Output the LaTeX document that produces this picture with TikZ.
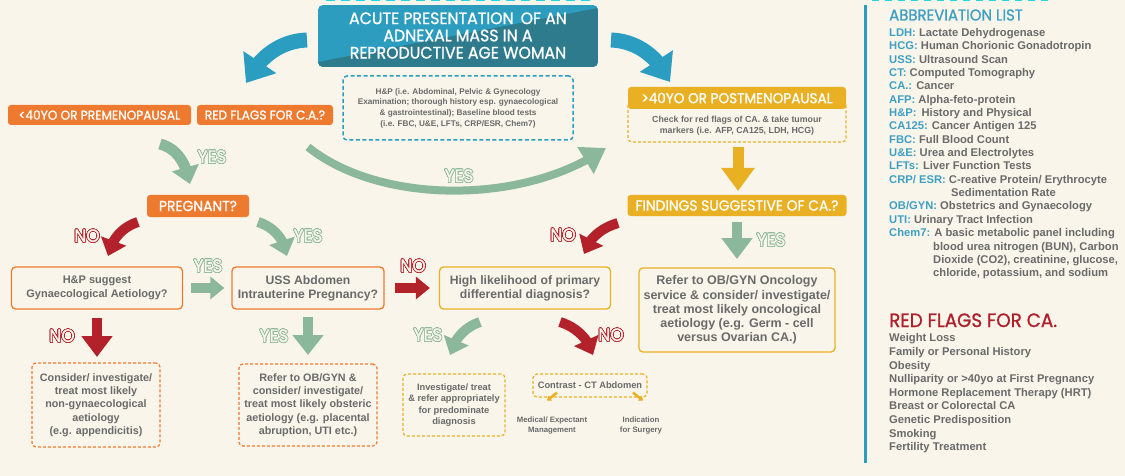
\documentclass[tikz,border=0pt]{standalone}
\usepackage{fontspec}
\setmainfont{Liberation Sans}
\newfontfamily\hf{Poppins}[FakeStretch=0.95,FakeBold=1]
\usepackage{contour}
\contourlength{0.7pt}
\usetikzlibrary{arrows.meta,bending}
\definecolor{bg}{HTML}{FAF5EB}
\definecolor{org}{HTML}{EE7A30}
\definecolor{tealL}{HTML}{2C9DBE}
\definecolor{tealD}{HTML}{2E7B8E}
\definecolor{blu}{HTML}{2B9DC0}
\definecolor{yel}{HTML}{E9B024}
\definecolor{grn}{HTML}{8BB89A}
\definecolor{rd}{HTML}{B3222B}
\definecolor{txt}{HTML}{6A6A6A}
\definecolor{key}{HTML}{3D9FC2}
\definecolor{dred}{HTML}{B0202A}
\definecolor{cyanbit}{HTML}{22D8E0}
\tikzset{
  hbox/.style={fill=#1, rounded corners=3pt, text=white, font=\hf\fontsize{14.6}{15}\selectfont, inner sep=0pt, minimum height=20pt},
  tbox/.style={draw=#1, line width=1.3pt, rounded corners=4pt, fill=bg, text=txt, font=\bfseries\fontsize{12.2}{14}\selectfont, align=center, inner sep=0pt},
  dbox/.style={draw=#1, line width=1.2pt, dash pattern=on 3pt off 2pt, rounded corners=4pt, text=txt, align=center, inner sep=0pt, font=\bfseries\fontsize{10.8}{13.3}\selectfont},
  lbl/.style={font=\hf\fontsize{18}{18}\selectfont, text=bg, inner sep=0pt},
  barrow/.style args={#1/#2/#3/#4}{draw=#1, line width=#2, arrows={-{Triangle[length=#3,width=#4]}}},
  abbr/.style={anchor=base west, inner sep=0pt, text=txt, font=\bfseries\fontsize{11.2}{12}\selectfont},
  rflag/.style={anchor=base west, inner sep=0pt, text=txt, font=\bfseries\fontsize{11.2}{12}\selectfont},
}
\begin{document}
\begin{tikzpicture}[x=1pt,y=-1pt]
\useasboundingbox (0,0) rectangle (1125,476);
\fill[bg] (0,0) rectangle (1125,476);
% cut-off marks along top edge
\draw[cyanbit, line width=1.4pt, dash pattern=on 9pt off 6pt] (326,0.7) coordinate (t1) -- (594,0.7) coordinate (t2);
\draw[cyanbit, line width=1.4pt, dash pattern=on 7pt off 6pt] (872,0.7) coordinate (t3) -- (1052,0.7) coordinate (t4);

% header
\begin{scope}
\clip[rounded corners=5pt] (318,5) rectangle (598,67);
\fill[tealL] (318,5) rectangle (598,67);
\fill[tealD] (318,62) -- (598,8) -- (598,67) -- (318,67) -- cycle;
\end{scope}
\node[text=white, font=\hf\fontsize{16.6}{17.2}\selectfont, align=center, inner sep=0pt] (head) at (458,35.5)
  {ACUTE PRESENTATION\, OF AN\\ADNEXAL MASS IN A\\REPRODUCTIVE AGE WOMAN};

\node[draw=blu, line width=1.5pt, dash pattern=on 4pt off 2.5pt, rounded corners=4pt, minimum width=230pt, minimum height=64pt, text=txt, align=center, inner sep=0pt, font=\bfseries\fontsize{8.2}{10.7}\selectfont] (hpd) at (458,108)
  {H\&P (i.e. Abdominal, Pelvic \& Gynecology\\Examination; thorough history esp. gynaecological\\\& gastrointestinal); Baseline blood tests\\(i.e. FBC, U\&E, LFTs, CRP/ESR, Chem7)};

% blue arrows
\coordinate (bl1) at (307,40); \coordinate (bl2) at (246,83);
\draw[barrow=blu/15pt/25pt/38pt] (bl1) .. controls (280,41) and (259,57) .. (bl2);
\coordinate (br1) at (611,40); \coordinate (br2) at (670,82);
\draw[barrow=blu/15pt/25pt/38pt] (br1) .. controls (638,41) and (659,58) .. (br2);

% left top boxes
\node[hbox=org, minimum width=183pt, font=\hf\fontsize{12.8}{14}\selectfont] (pre) at (99.5,115) {<40YO OR PREMENOPAUSAL};
\node[hbox=org, minimum width=136pt, font=\hf\fontsize{12.8}{14}\selectfont] (rf) at (265,115) {RED FLAGS FOR C.A.?};

% post box
\node[draw=yel, line width=1.2pt, dash pattern=on 3pt off 2pt, rounded corners=4pt, minimum width=218pt, minimum height=40pt, inner sep=0pt] (chk) at (737,122) {};
\node[hbox=yel, minimum width=218pt, minimum height=22pt, font=\hf\fontsize{14.3}{15}\selectfont] (post) at (737,98) {>40YO OR POSTMENOPAUSAL};
\node[text=txt, align=center, inner sep=0pt, font=\bfseries\fontsize{8.8}{11}\selectfont] (chkt) at (737,125.5)
  {Check for red flags of CA. \& take tumour\\markers (i.e. AFP, CA125, LDH, HCG)};

\coordinate (ya1) at (738,147); \coordinate (ya2) at (738,191);
\draw[barrow=yel/11pt/23pt/32pt] (ya1) -- (ya2);

\node[hbox=yel, minimum width=219pt, minimum height=21pt] (find) at (737,205.5) {FINDINGS SUGGESTIVE OF CA.?};

\coordinate (gd1) at (737,222); \coordinate (gd2) at (737,259);
\draw[barrow=grn/10pt/21pt/30pt] (gd1) -- (gd2);
\node[lbl] (y6) at (771,240) {\contour{grn}{YES}};

\node[tbox=yel, minimum width=196pt, minimum height=84pt, font=\bfseries\fontsize{12.5}{14.2}\selectfont] (onc) at (737,310)
  {Refer to OB/GYN Oncology\\service \& consider/ investigate/\\treat most likely oncological\\aetiology (e.g. Germ - cell\\versus Ovarian CA.)};

% green big arc
\coordinate (ga1) at (308,147); \coordinate (ga2) at (606,148);
\draw[barrow=grn/8pt/24pt/30pt] (ga1) .. controls (380,205) and (525,205) .. (ga2);
\node[lbl] (y2) at (459,176) {\contour{grn}{YES}};

% green small top-left
\coordinate (gs1) at (160,144); \coordinate (gs2) at (190,184);
\draw[barrow=grn/11pt/17pt/27pt] (gs1) .. controls (176,148) and (186,162) .. (gs2);
\node[lbl] (y1) at (212,157) {\contour{grn}{YES}};

\node[hbox=org, minimum width=102pt, minimum height=22pt] (preg) at (198,206) {PREGNANT?};

\coordinate (pn1) at (138,222); \coordinate (pn2) at (108,256);
\draw[barrow=rd/10pt/16pt/26pt] (pn1) .. controls (122,227) and (111,240) .. (pn2);
\node[lbl] (n1) at (87,236) {\contour{rd}{NO}};
\coordinate (py1) at (258,222); \coordinate (py2) at (287,256);
\draw[barrow=grn/10pt/16pt/26pt] (py1) .. controls (274,227) and (285,240) .. (py2);
\node[lbl] (y3) at (308,236) {\contour{grn}{YES}};

\coordinate (fn1) at (618,223); \coordinate (fn2) at (584,254);
\draw[barrow=rd/10pt/16pt/26pt] (fn1) .. controls (601,228) and (588,239) .. (fn2);
\node[lbl] (n2) at (563,235) {\contour{rd}{NO}};

% row of decision boxes
\node[tbox=org, minimum width=171pt, minimum height=42pt, font=\bfseries\fontsize{11}{14}\selectfont] (hp) at (97,288) {H\&P suggest\\Gynaecological Aetiology?};
\node[tbox=org, minimum width=152pt, minimum height=42pt] (uss) at (308,288) {USS Abdomen\\Intrauterine Pregnancy?};
\node[tbox=yel, minimum width=171pt, minimum height=42pt] (hi) at (525,288) {High likelihood of primary\\differential diagnosis?};

\draw[barrow=grn/10pt/14pt/22pt] (hp.east) ++(8,0) coordinate (hr1) -- ([xshift=-7pt]uss.west);
\node[lbl] (y4) at (208,266) {\contour{grn}{YES}};
\draw[barrow=rd/10pt/14pt/22pt] (uss.east) ++(10,0) coordinate (ur1) -- ([xshift=-9pt]hi.west);
\node[lbl] (n3) at (413,266) {\contour{rd}{NO}};

% down arrows
\coordinate (rd1) at (97,318); \coordinate (rd2) at (97,357);
\draw[barrow=rd/10pt/21pt/30pt] (rd1) -- (rd2);
\node[lbl] (n4) at (62,336) {\contour{rd}{NO}};
\coordinate (gu1) at (308,317); \coordinate (gu2) at (308,355);
\draw[barrow=grn/10pt/20pt/30pt] (gu1) -- (gu2);
\node[lbl] (y5) at (274,336) {\contour{grn}{YES}};

\coordinate (hy1) at (480,322); \coordinate (hy2) at (450,355);
\draw[barrow=grn/10pt/16pt/26pt] (hy1) .. controls (465,327) and (454,339) .. (hy2);
\node[lbl] (y7) at (428,335) {\contour{grn}{YES}};
\coordinate (hn1) at (560,322); \coordinate (hn2) at (593,355);
\draw[barrow=rd/10pt/16pt/26pt] (hn1) .. controls (576,327) and (589,339) .. (hn2);
\node[lbl] (n5) at (611,335) {\contour{rd}{NO}};

% bottom dashed boxes
\node[dbox=org, minimum width=128pt, minimum height=84pt] (ng) at (96,405)
  {Consider/ investigate/\\treat most likely\\non-gynaecological\\aetiology\\(e.g. appendicitis)};
\node[dbox=org, minimum width=138pt, minimum height=82pt] (ob) at (308,405)
  {Refer to OB/GYN \&\\consider/ investigate/\\treat most likely obsteric\\aetiology (e.g. placental\\abruption, UTI etc.)};
\node[dbox=yel, minimum width=102pt, minimum height=62pt, font=\bfseries\fontsize{9.3}{11.3}\selectfont] (inv) at (454,405)
  {Investigate/ treat\\\& refer appropriately\\for predominate\\diagnosis};
\node[dbox=yel, minimum width=114pt, minimum height=23pt, font=\bfseries\fontsize{9.3}{11}\selectfont] (ct) at (590,385.5)
  {Contrast - CT Abdomen};

\draw[yel, line width=2.5pt, -{Triangle[length=4pt,width=6pt]}] ([xshift=-33pt,yshift=5pt]ct.south) coordinate (c1) -- ++(-10,8);
\draw[yel, line width=2.5pt, -{Triangle[length=4pt,width=6pt]}] ([xshift=43pt,yshift=5pt]ct.south) coordinate (c2) -- ++(10,8);
\node[text=txt, align=center, inner sep=0pt, font=\bfseries\fontsize{7.8}{9.2}\selectfont] (med) at (552,425.5) {Medical/ Expectant\\Management};
\node[text=txt, align=center, inner sep=0pt, font=\bfseries\fontsize{7.8}{9.2}\selectfont] (ind) at (641,425.5) {Indication\\for Surgery};

% right panel
\draw[blu, line width=3pt] (865,5) coordinate (v1) -- (865,463) coordinate (v2);
\node[anchor=base west, inner sep=0pt, text=key, font=\hf\fontsize{15.7}{16}\selectfont] (abt) at (889,20.5) {ABBREVIATION LIST};
\node[abbr] (a1) at (889,36.7) {\textcolor{key}{LDH:} Lactate Dehydrogenase};
\node[abbr] (a2) at (889,50) {\textcolor{key}{HCG:} Human Chorionic Gonadotropin};
\node[abbr] (a3) at (889,63.3) {\textcolor{key}{USS:} Ultrasound Scan};
\node[abbr] (a4) at (889,76.7) {\textcolor{key}{CT:} Computed Tomography};
\node[abbr] (a5) at (889,90) {\textcolor{key}{CA.:} Cancer};
\node[abbr] (a6) at (889,103.3) {\textcolor{key}{AFP:} Alpha-feto-protein};
\node[abbr] (a7) at (889,116.7) {\textcolor{key}{H\&P:}\, History and Physical};
\node[abbr] (a8) at (889,130) {\textcolor{key}{CA125:} Cancer Antigen 125};
\node[abbr] (a9) at (889,143.3) {\textcolor{key}{FBC:} Full Blood Count};
\node[abbr] (a10) at (889,156.7) {\textcolor{key}{U\&E:} Urea and Electrolytes};
\node[abbr] (a11) at (889,170) {\textcolor{key}{LFTs:} Liver Function Tests};
\node[abbr] (a12) at (889,183.3) {\textcolor{key}{CRP/ ESR:} C-reative Protein/ Erythrocyte};
\node[abbr] (a13) at (951,196.7) {Sedimentation Rate};
\node[abbr] (a14) at (889,210) {\textcolor{key}{OB/GYN:} Obstetrics and Gynaecology};
\node[abbr] (a15) at (889,223.3) {\textcolor{key}{UTI:} Urinary Tract Infection};
\node[abbr] (a16) at (889,236.7) {\textcolor{key}{Chem7:} A basic metabolic panel including};
\node[abbr] (a17) at (933,250) {blood urea nitrogen (BUN), Carbon};
\node[abbr] (a18) at (933,263.3) {Dioxide (CO2), creatinine, glucose,};
\node[abbr] (a19) at (933,276.7) {chloride, potassium, and sodium};

\node[anchor=base west, inner sep=0pt, text=dred, font=\hf\fontsize{19.3}{20}\selectfont] (rft) at (889,327) {RED FLAGS FOR CA.};
\node[rflag] (r1) at (889,341.7) {Weight Loss};
\node[rflag] (r2) at (889,355.3) {Family or Personal History};
\node[rflag] (r3) at (889,369) {Obesity};
\node[rflag] (r4) at (889,382.6) {Nulliparity or >40yo at First Pregnancy};
\node[rflag] (r5) at (889,396.2) {Hormone Replacement Therapy (HRT)};
\node[rflag] (r6) at (889,409.8) {Breast or Colorectal CA};
\node[rflag] (r7) at (889,423.4) {Genetic Predisposition};
\node[rflag] (r8) at (889,437) {Smoking};
\node[rflag] (r9) at (889,450.6) {Fertility Treatment};
\end{tikzpicture}
\end{document}
